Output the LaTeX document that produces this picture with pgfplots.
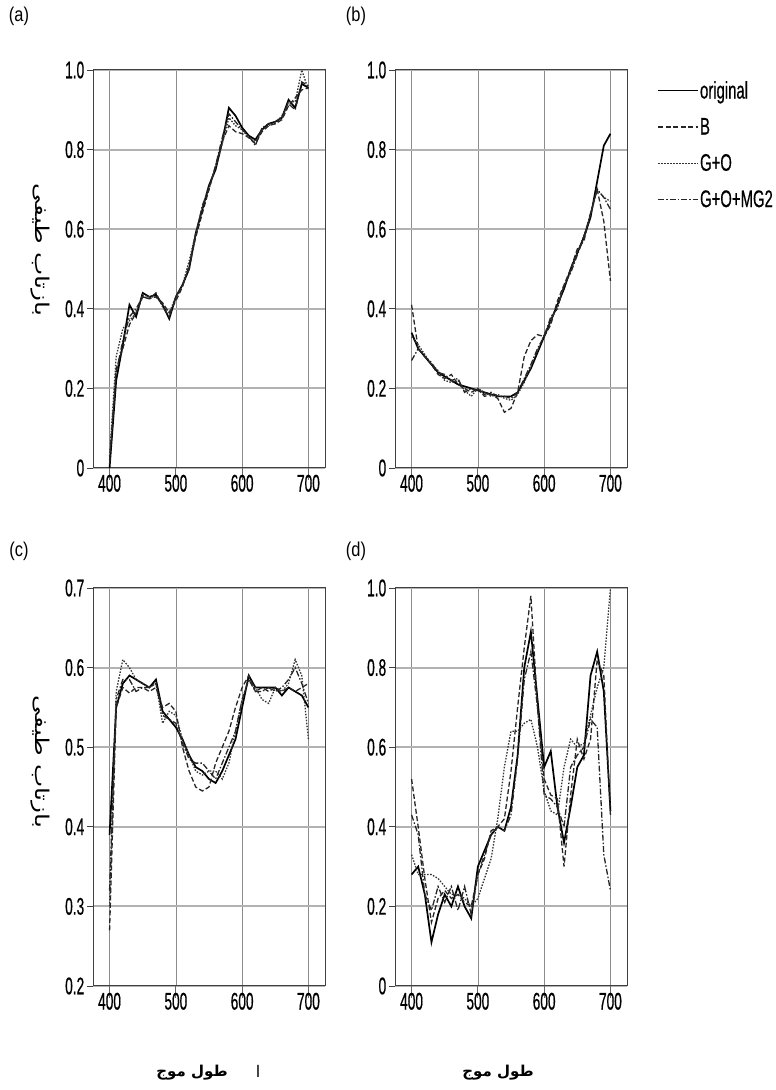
\documentclass[border=0pt]{standalone}
\usepackage{pgfplots}
\pgfplotsset{compat=1.18}
\usepackage{fontspec}
\setmainfont[FakeStretch=0.57, FakeBold=0.5]{Liberation Sans}
\newfontfamily\legfont[FakeStretch=0.62, FakeBold=0.5]{Liberation Sans}
\newfontfamily\letfont[FakeStretch=0.82]{Liberation Sans}
\newfontfamily\arabicwide[Script=Arabic, FakeStretch=1.3]{DejaVu Sans}
\newfontfamily\arabicfont[Script=Arabic]{DejaVu Sans}
\TeXXeTstate=1

\pgfplotsset{
  panel/.style={
    scale only axis, width=232pt, height=398pt,
    xmin=375, xmax=725, xtick={400,500,600,700},
    grid=major,
    y grid style={black!30, line width=2pt},
    x grid style={black!45, line width=0.7pt},
    axis line style={black!75, line width=1pt},
    tick align=outside, tick pos=left,
    xtick style={black!60, line width=0.8pt, /pgfplots/major tick length=12pt},
    ytick style={black!75, line width=0.8pt, /pgfplots/major tick length=6pt},
    ticklabel style={font=\fontsize{24}{24}\selectfont},
    xticklabel style={yshift=1pt},
    yticklabel style={xshift=-1pt},
    /pgf/number format/assume math mode=true,
  },
  orig/.style={black, line width=1.7pt},
  Bs/.style={black!85, line width=1.3pt, dash pattern=on 5pt off 2.5pt},
  GO/.style={black!80, line width=1.3pt, dash pattern=on 1.5pt off 1.5pt},
  GOM/.style={black!85, line width=1.3pt, dash pattern=on 6pt off 2pt on 1.5pt off 2pt},
}

\pgfplotstableread{
x    o     b     g     m
400  0.00  0.02  0.03  0.01
410  0.22  0.25  0.28  0.24
420  0.31  0.30  0.35  0.32
430  0.41  0.36  0.37  0.38
440  0.38  0.39  0.39  0.40
450  0.44  0.43  0.435 0.43
460  0.43  0.425 0.43  0.425
470  0.435 0.43  0.43  0.44
480  0.41  0.415 0.41  0.405
490  0.375 0.39  0.39  0.38
500  0.43  0.42  0.43  0.43
510  0.46  0.455 0.46  0.46
520  0.50  0.51  0.52  0.50
530  0.59  0.58  0.59  0.585
540  0.65  0.64  0.655 0.66
550  0.71  0.70  0.71  0.70
560  0.75  0.76  0.755 0.76
570  0.82  0.82  0.815 0.83
580  0.905 0.86  0.88  0.89
590  0.885 0.845 0.86  0.87
600  0.855 0.84  0.85  0.85
610  0.835 0.83  0.83  0.835
620  0.825 0.815 0.82  0.81
630  0.85  0.845 0.85  0.855
640  0.865 0.86  0.86  0.865
650  0.87  0.865 0.87  0.865
660  0.88  0.875 0.88  0.885
670  0.925 0.91  0.92  0.915
680  0.905 0.93  0.92  0.90
690  0.965 0.95  1.00  0.97
700  0.955 0.955 0.95  0.96
}\tabA

\pgfplotstableread{
x    o     b     g     m
400  0.34  0.41  0.33  0.27
410  0.30  0.30  0.31  0.30
420  0.28  0.28  0.285 0.28
430  0.26  0.26  0.26  0.265
440  0.24  0.235 0.245 0.24
450  0.23  0.225 0.22  0.235
460  0.22  0.235 0.215 0.22
470  0.21  0.21  0.22  0.225
480  0.205 0.20  0.195 0.19
490  0.20  0.19  0.18  0.20
500  0.195 0.20  0.20  0.195
510  0.19  0.18  0.19  0.185
520  0.185 0.185 0.18  0.19
530  0.18  0.175 0.185 0.18
540  0.18  0.14  0.175 0.18
550  0.18  0.15  0.17  0.175
560  0.19  0.19  0.185 0.19
570  0.22  0.28  0.215 0.225
580  0.25  0.32  0.255 0.26
590  0.29  0.335 0.295 0.30
600  0.33  0.33  0.335 0.33
610  0.37  0.36  0.37  0.38
620  0.41  0.42  0.405 0.40
630  0.45  0.46  0.455 0.46
640  0.50  0.50  0.495 0.49
650  0.54  0.55  0.54  0.535
660  0.58  0.57  0.585 0.58
670  0.63  0.64  0.635 0.64
680  0.72  0.70  0.70  0.70
690  0.81  0.62  0.68  0.68
700  0.84  0.47  0.67  0.65
}\tabB

\pgfplotstableread{
x    o     b     g     m
400  0.39  0.27  0.30  0.32
410  0.55  0.55  0.57  0.56
420  0.58  0.575 0.61  0.585
430  0.59  0.568 0.60  0.585
440  0.585 0.575 0.585 0.57
450  0.58  0.575 0.58  0.575
460  0.575 0.57  0.575 0.575
470  0.585 0.575 0.58  0.58
480  0.545 0.55  0.53  0.54
490  0.535 0.555 0.545 0.535
500  0.525 0.545 0.54  0.53
510  0.51  0.50  0.51  0.505
520  0.49  0.47  0.49  0.485
530  0.475 0.45  0.47  0.48
540  0.47  0.445 0.465 0.48
550  0.46  0.45  0.47  0.47
560  0.455 0.48  0.47  0.46
570  0.47  0.50  0.46  0.48
580  0.49  0.52  0.48  0.50
590  0.51  0.55  0.52  0.52
600  0.55  0.575 0.56  0.56
610  0.59  0.59  0.585 0.585
620  0.575 0.57  0.575 0.57
630  0.575 0.575 0.56  0.57
640  0.575 0.57  0.555 0.575
650  0.575 0.575 0.575 0.57
660  0.565 0.57  0.57  0.575
670  0.575 0.575 0.58  0.585
680  0.57  0.57  0.61  0.60
690  0.565 0.575 0.59  0.58
700  0.55  0.58  0.51  0.555
}\tabC

\pgfplotstableread{
x    o     b     g     m
400  0.28  0.52  0.33  0.43
410  0.30  0.40  0.28  0.38
420  0.23  0.27  0.28  0.23
430  0.11  0.16  0.28  0.19
440  0.18  0.22  0.27  0.25
450  0.23  0.24  0.25  0.21
460  0.20  0.22  0.23  0.25
470  0.25  0.23  0.23  0.19
480  0.20  0.21  0.22  0.25
490  0.17  0.20  0.20  0.18
500  0.30  0.28  0.22  0.28
510  0.34  0.32  0.27  0.33
520  0.38  0.39  0.32  0.38
530  0.40  0.40  0.42  0.40
540  0.39  0.42  0.55  0.39
550  0.45  0.54  0.64  0.43
560  0.58  0.70  0.64  0.57
570  0.80  0.85  0.66  0.77
580  0.89  0.98  0.67  0.84
590  0.72  0.70  0.60  0.70
600  0.55  0.52  0.49  0.48
610  0.59  0.48  0.44  0.47
620  0.45  0.47  0.43  0.45
630  0.36  0.30  0.55  0.40
640  0.45  0.48  0.62  0.55
650  0.55  0.62  0.60  0.58
660  0.58  0.57  0.61  0.60
670  0.78  0.62  0.68  0.67
680  0.84  0.82  0.75  0.65
690  0.74  0.78  0.80  0.33
700  0.44  0.43  1.00  0.24
}\tabD

\begin{document}
\begin{tikzpicture}[x=1pt,y=1pt]
\path[use as bounding box] (0,0) rectangle (776,1090);

% (a)
\begin{axis}[panel, at={(93pt,622pt)}, anchor=south west,
  ymin=0, ymax=1, ytick={0,0.2,0.4,0.6,0.8,1.0}, yticklabels={0,0.2,0.4,0.6,0.8,1.0}]
\addplot[orig] table[x=x,y=o] {\tabA};
\addplot[Bs] table[x=x,y=b] {\tabA};
\addplot[GO] table[x=x,y=g] {\tabA};
\addplot[GOM] table[x=x,y=m] {\tabA};
\end{axis}

% (b)
\begin{axis}[panel, at={(395pt,622pt)}, anchor=south west,
  ymin=0, ymax=1, ytick={0,0.2,0.4,0.6,0.8,1.0}, yticklabels={0,0.2,0.4,0.6,0.8,1.0},
  legend style={at={(1.13,0.975)}, anchor=north west, draw=none, fill=none,
    font=\legfont\fontsize{24}{24}\selectfont, row sep=16pt, inner sep=0pt,
    nodes={inner sep=1pt}},
  legend cell align=left,
  legend image code/.code={\draw[#1] (0pt,0pt) -- (40pt,0pt);}]
\addplot[orig] table[x=x,y=o] {\tabB};
\addplot[Bs] table[x=x,y=b] {\tabB};
\addplot[GO] table[x=x,y=g] {\tabB};
\addplot[GOM] table[x=x,y=m] {\tabB};
\legend{original,B,G+O,G+O+MG2}
\end{axis}

% (c)
\begin{axis}[panel, at={(93pt,104pt)}, anchor=south west,
  ymin=0.2, ymax=0.7, ytick={0.2,0.3,0.4,0.5,0.6,0.7}, yticklabels={0.2,0.3,0.4,0.5,0.6,0.7}]
\addplot[orig] table[x=x,y=o] {\tabC};
\addplot[Bs] table[x=x,y=b] {\tabC};
\addplot[GO] table[x=x,y=g] {\tabC};
\addplot[GOM] table[x=x,y=m] {\tabC};
\end{axis}

% (d)
\begin{axis}[panel, at={(395pt,104pt)}, anchor=south west,
  ymin=0, ymax=1, ytick={0,0.2,0.4,0.6,0.8,1.0}, yticklabels={0,0.2,0.4,0.6,0.8,1.0}]
\addplot[orig] table[x=x,y=o] {\tabD};
\addplot[Bs] table[x=x,y=b] {\tabD};
\addplot[GO] table[x=x,y=g] {\tabD};
\addplot[GOM] table[x=x,y=m] {\tabD};
\end{axis}

% panel letters
\node[font=\letfont\fontsize{20}{20}\selectfont] at (19,1074) {(a)};
\node[font=\letfont\fontsize{20}{20}\selectfont] at (356,1074) {(b)};
\node[font=\letfont\fontsize{20}{20}\selectfont] at (19,539) {(c)};
\node[font=\letfont\fontsize{20}{20}\selectfont] at (356,539) {(d)};

% axis titles
\node[rotate=-90, font=\arabicwide\fontsize{19}{19}\selectfont] at (40,840) {\beginR بازتاب طیفی\endR};
\node[rotate=-90, font=\arabicwide\fontsize{19}{19}\selectfont] at (40,328) {\beginR بازتاب طیفی\endR};
\node[font=\arabicfont\bfseries\fontsize{15}{15}\selectfont] at (192,17) {\beginR طول موج\endR};
\node[font=\arabicfont\bfseries\fontsize{15}{15}\selectfont] at (498,17) {\beginR طول موج\endR};
\node[font=\arabicfont\fontsize{16}{16}\selectfont] at (258,19) {\beginR ا\endR};
\end{tikzpicture}
\end{document}
